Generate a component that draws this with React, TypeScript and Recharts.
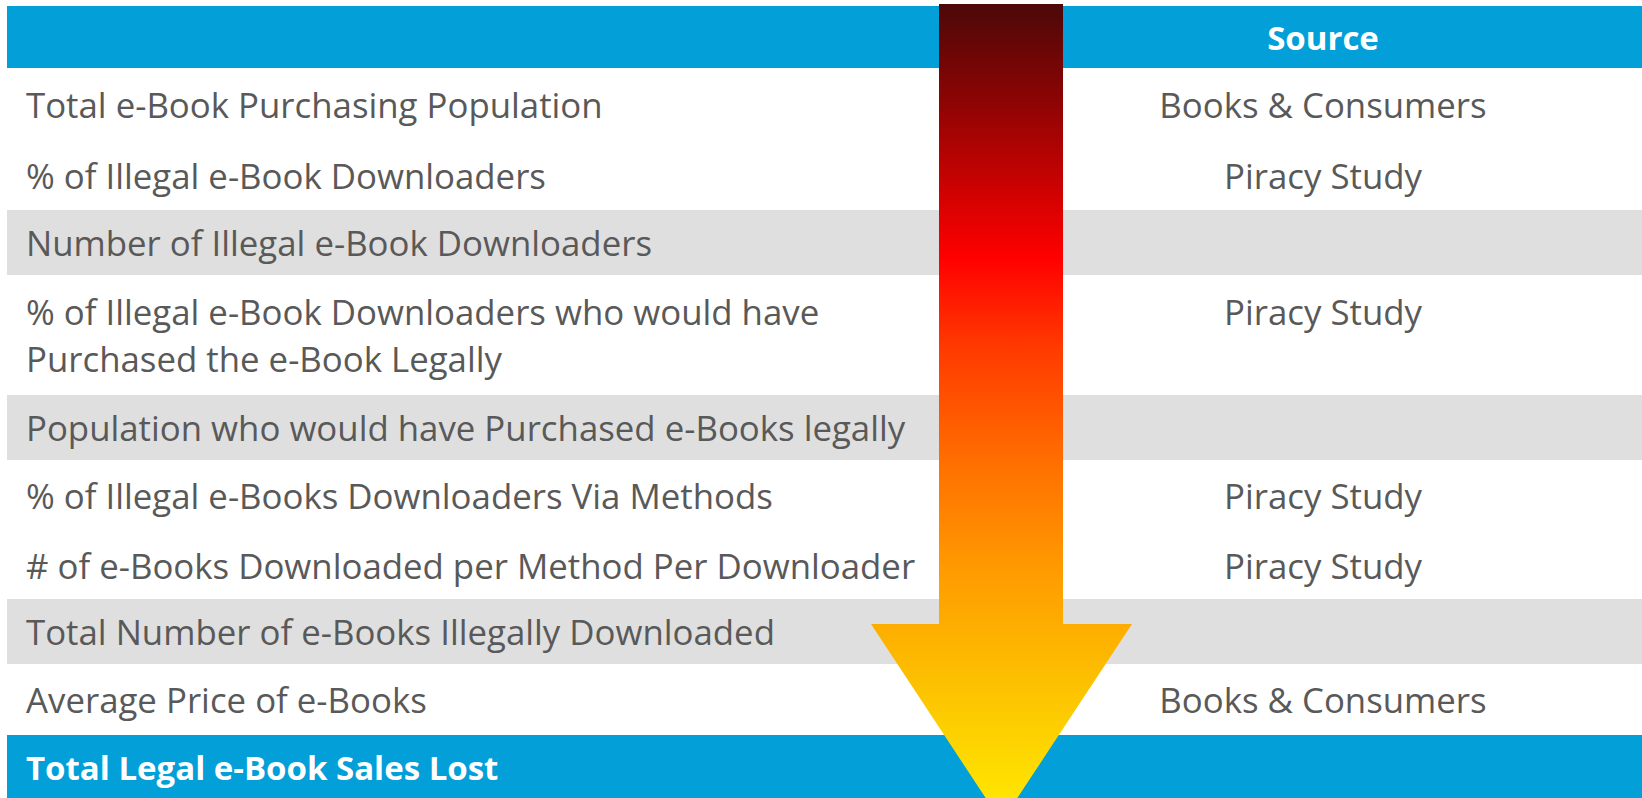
import React from 'react';
import { ComposedChart, XAxis, YAxis, ReferenceArea } from 'recharts';

// ---- table content ----
const rowLabels: string[][] = [
  [''],
  ['Total e-Book Purchasing Population'],
  ['% of Illegal e-Book Downloaders'],
  ['Number of Illegal e-Book Downloaders'],
  ['% of Illegal e-Book Downloaders who would have', 'Purchased the e-Book Legally'],
  ['Population who would have Purchased e-Books legally'],
  ['% of Illegal e-Books Downloaders Via Methods'],
  ['# of e-Books Downloaded per Method Per Downloader'],
  ['Total Number of e-Books Illegally Downloaded'],
  ['Average Price of e-Books'],
  ['Total Legal e-Book Sales Lost'],
];
const rowSources: string[] = [
  'Source',
  'Books & Consumers',
  'Piracy Study',
  '',
  'Piracy Study',
  '',
  'Piracy Study',
  'Piracy Study',
  '',
  'Books & Consumers',
  '',
];
const rowKinds: string[] = ['header', 'plain', 'plain', 'shaded', 'plain', 'shaded', 'plain', 'plain', 'shaded', 'plain', 'header'];
const rowHeights: number[] = [62, 73, 69, 65, 120, 65, 71, 68, 65, 71, 63];

// arrow extents (in table units)
const arrowHeadX: number[] = [871, 1132];
const arrowShaftX: number[] = [939, 1063];
const arrowY: number[] = [-2, 618, 816]; // top, head start, tip

// ---- layout / style ----
const W = 1642;
const H = 798;
const TOP = 6;
const TABLE_LEFT = 7;
const TEXT_LEFT = 26;
const SOURCE_COL: [number, number] = [1004, 1642];
const FONT = "'Open Sans', 'Noto Sans', sans-serif";
const FONT_SIZE = 34.8;
const BOLD_SIZE = 33;
const LINE_GAP = 47;
const BLUE = '#029FD9';
const GRAY = '#DFDFDF';
const TEXT = '#595959';

const bounds: number[] = rowHeights.reduce((acc: number[], h) => {
  acc.push(acc[acc.length - 1] + h);
  return acc;
}, [0]);
const TOTAL = bounds[bounds.length - 1];

const rows = rowLabels.map((lines, i) => ({
  lines,
  source: rowSources[i],
  kind: rowKinds[i],
  y0: bounds[i],
  y1: bounds[i + 1],
}));

const CellText = (props: any) => {
  const { viewBox, lines, totalLines, anchor, bold, color } = props;
  if (!viewBox) return null;
  const { x, y, width, height } = viewBox;
  const cx = anchor === 'middle' ? x + width / 2 : x;
  const cy = y + height / 2;
  return (
    <g>
      {lines.map((t: string, i: number) => (
        <text
          key={i}
          x={cx}
          y={cy + (i - (totalLines - 1) / 2) * LINE_GAP}
          dy="0.4em"
          textAnchor={anchor}
          fontFamily={FONT}
          fontSize={bold ? BOLD_SIZE : FONT_SIZE}
          fontWeight={bold ? 700 : 400}
          fill={color}
        >
          {t}
        </text>
      ))}
    </g>
  );
};

const ArrowShape = (props: any) => {
  const { x, y, width, height } = props;
  const fx = (v: number) => x + ((v - arrowHeadX[0]) / (arrowHeadX[1] - arrowHeadX[0])) * width;
  const fy = (v: number) => y + ((v - arrowY[0]) / (arrowY[2] - arrowY[0])) * height;
  const s0 = fx(arrowShaftX[0]);
  const s1 = fx(arrowShaftX[1]);
  const hy = fy(arrowY[1]);
  const tipX = x + width / 2;
  const pts = [
    [s0, y],
    [s1, y],
    [s1, hy],
    [x + width, hy],
    [tipX, y + height],
    [x, hy],
    [s0, hy],
  ]
    .map((p) => p.join(','))
    .join(' ');
  return (
    <g>
      <defs>
        <linearGradient id="arrowGrad" x1="0" y1="0" x2="0" y2="1">
          <stop offset="0" stopColor="#4C0808" />
          <stop offset="0.12" stopColor="#8E0404" />
          <stop offset="0.31" stopColor="#FF0000" />
          <stop offset="0.42" stopColor="#FF3A00" />
          <stop offset="0.57" stopColor="#FF7200" />
          <stop offset="0.69" stopColor="#FF9A00" />
          <stop offset="0.85" stopColor="#FCC600" />
          <stop offset="1" stopColor="#FFEC00" />
        </linearGradient>
      </defs>
      <polygon points={pts} fill="url(#arrowGrad)" />
    </g>
  );
};

export default function App() {
  return (
    <div style={{ position: 'absolute', left: 0, top: 0, width: W, height: H, background: '#fff' }}>
      <ComposedChart
        width={W}
        height={H}
        data={rows}
        margin={{ top: TOP, right: 0, bottom: 0, left: 0 }}
      >
        <XAxis type="number" dataKey="y0" domain={[0, W]} hide allowDataOverflow />
        <YAxis type="number" domain={[0, TOTAL]} reversed hide allowDataOverflow />
        {rows.map((r, i) =>
          r.kind === 'plain' ? null : (
            <ReferenceArea
              key={`bg-${i}`}
              x1={TABLE_LEFT}
              x2={W}
              y1={r.y0}
              y2={r.y1}
              fill={r.kind === 'header' ? BLUE : GRAY}
              fillOpacity={1}
              stroke="none"
              ifOverflow="visible"
            />
          )
        )}
        {rows.map((r, i) => (
          <ReferenceArea
            key={`lab-${i}`}
            x1={TEXT_LEFT}
            x2={SOURCE_COL[0]}
            y1={r.y0}
            y2={r.y1}
            fillOpacity={0}
            stroke="none"
            ifOverflow="visible"
            label={
              <CellText
                lines={r.lines}
                totalLines={r.lines.length}
                anchor="start"
                bold={r.kind === 'header'}
                color={r.kind === 'header' ? '#FFFFFF' : TEXT}
              />
            }
          />
        ))}
        {rows.map((r, i) =>
          r.source ? (
            <ReferenceArea
              key={`src-${i}`}
              x1={SOURCE_COL[0]}
              x2={SOURCE_COL[1]}
              y1={r.y0}
              y2={r.y1}
              fillOpacity={0}
              stroke="none"
              ifOverflow="visible"
              label={
                <CellText
                  lines={[r.source]}
                  totalLines={r.lines.length}
                  anchor="middle"
                  bold={r.kind === 'header'}
                  color={r.kind === 'header' ? '#FFFFFF' : TEXT}
                />
              }
            />
          ) : null
        )}
        <ReferenceArea
          x1={arrowHeadX[0]}
          x2={arrowHeadX[1]}
          y1={arrowY[0]}
          y2={arrowY[2]}
          ifOverflow="visible"
          shape={<ArrowShape />}
        />
      </ComposedChart>
    </div>
  );
}
